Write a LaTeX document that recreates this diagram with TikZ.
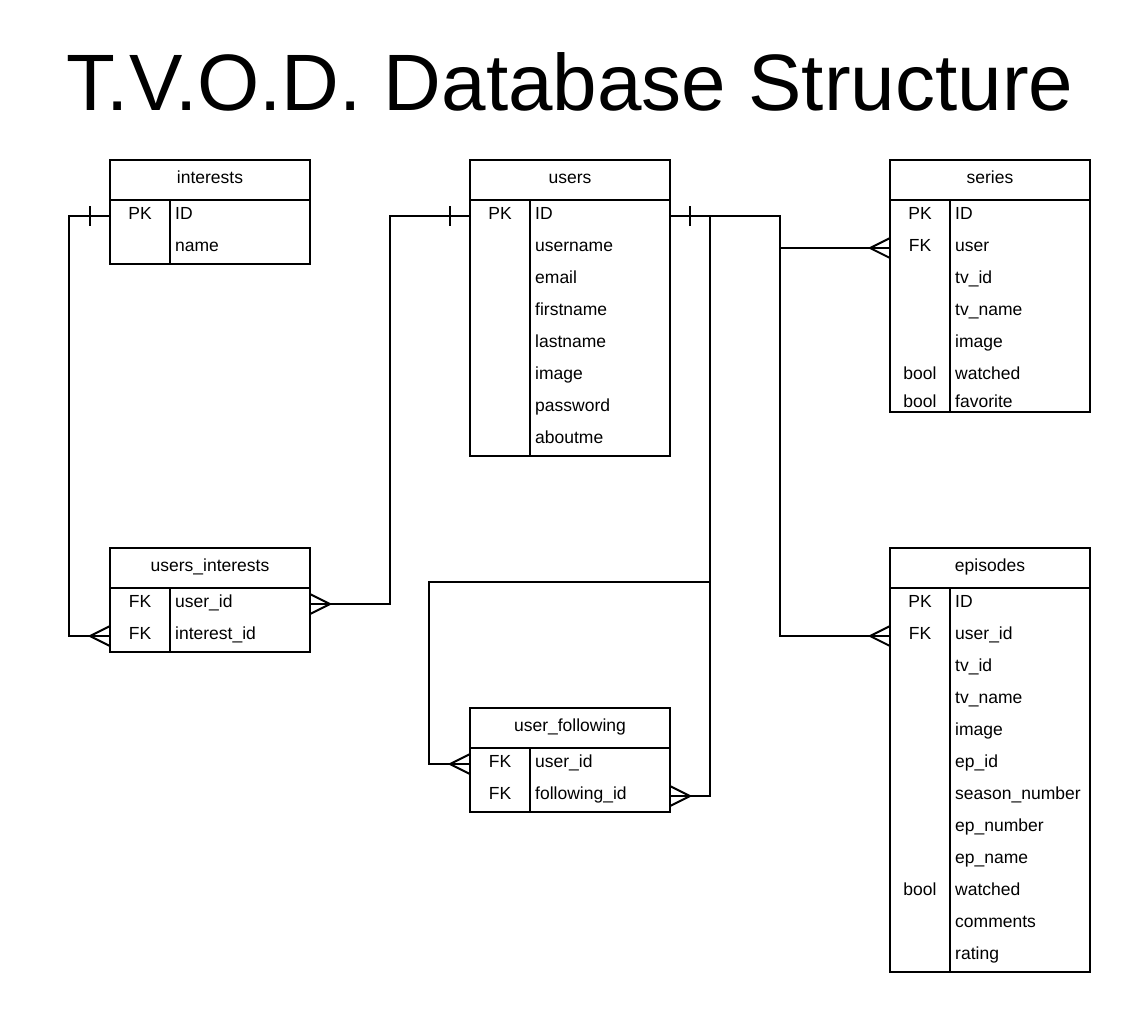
\documentclass[tikz,border=0pt]{standalone}
\usepackage{fontspec}
\setmainfont{Liberation Sans}
\usetikzlibrary{positioning}

\tikzset{
  link/.style={line width=2pt},
  head/.style={draw, line width=2pt, minimum width=200pt, minimum height=40pt,
    inner sep=0pt, outer sep=0pt, text height=12.6pt, text depth=5pt,
    font=\fontsize{17.5pt}{20pt}\selectfont},
  body/.style={draw, line width=2pt, minimum width=200pt, inner sep=0pt, outer sep=0pt},
  key/.style={inner sep=0pt, text height=12.6pt, text depth=5pt,
    font=\fontsize{17.5pt}{20pt}\selectfont},
  field/.style={key, anchor=west},
  one/.pic={\draw[link] (-20,-10) -- (-20,10);},
  many/.pic={\draw[link] (0,-10) -- (-20,0) -- (0,10);},
}

% name, x, y (top left), title, body height, rows key/field
\newcommand{\ertable}[6]{%
  \node[head] (#1) at (#2+100,#3+20) {#4};
  \node[body, minimum height=#5pt, below=0pt of #1] (#1-body) {};
  \draw[link] ([xshift=60pt]#1-body.north west) -- ([xshift=60pt]#1-body.south west);
  \foreach \k/\f [count=\i] in {#6} {
    \pgfmathsetmacro\ry{min(#3+56+32*(\i-1),#3+32+#5)}
    \node[key] (#1-k\i) at (#2+30,\ry) {\k};
    \node[field] (#1-\i) at (#2+65,\ry) {\f};
  }
}

\begin{document}
\begin{tikzpicture}[x=1pt,y=-1pt]
  \fill[white] (0,0) rectangle (1140,1012);
  \useasboundingbox (0,0) rectangle (1140,1012);

  \node[anchor=base, font=\fontsize{80pt}{84pt}\selectfont] (title) at (570,110)
    {T.V.O.D. Database Structure};

  \ertable{interests}{110}{160}{interests}{64}{PK/ID, /name}
  \ertable{users}{470}{160}{users}{256}{PK/ID, /username, /email, /firstname,
    /lastname, /image, /password, /aboutme}
  \ertable{series}{890}{160}{series}{212}{PK/ID, FK/user, /tv\_id, /tv\_name,
    /image, bool/watched, bool/favorite}
  \ertable{usersint}{110}{548}{users\_interests}{64}{FK/user\_id, FK/interest\_id}
  \ertable{follow}{470}{708}{user\_following}{64}{FK/user\_id, FK/following\_id}
  \ertable{episodes}{890}{548}{episodes}{384}{PK/ID, FK/user\_id, /tv\_id,
    /tv\_name, /image, /ep\_id, /season\_number, /ep\_number, /ep\_name,
    bool/watched, /comments, /rating}

  % relations
  \draw[link] (interests-body.west |- interests-1) -- ++(-41,0)
    |- (usersint-body.west |- usersint-2);
  \draw[link] (users-body.west |- users-1) -- ++(-80,0)
    |- (usersint-body.east |- usersint-1);
  \draw[link] (users-body.east |- users-1) -- ++(110,0)
    |- (series-body.west |- series-2);
  \draw[link] (users-body.east |- users-1) -- ++(110,0)
    |- (episodes-body.west |- episodes-2);
  \draw[link] (users-body.east |- users-1) -- ++(40,0)
    |- (follow-body.east |- follow-2);
  \draw[link] (users-body.east |- users-1) -- ++(40,0) -- ++(0,366) -- ++(-281,0)
    |- (follow-body.west |- follow-1);

  \pic at (interests-body.west |- interests-1) {one};
  \pic at (users-body.west |- users-1) {one};
  \pic[rotate=180] at (users-body.east |- users-1) {one};
  \pic at (usersint-body.west |- usersint-2) {many};
  \pic[rotate=180] at (usersint-body.east |- usersint-1) {many};
  \pic at (series-body.west |- series-2) {many};
  \pic at (episodes-body.west |- episodes-2) {many};
  \pic at (follow-body.west |- follow-1) {many};
  \pic[rotate=180] at (follow-body.east |- follow-2) {many};
\end{tikzpicture}
\end{document}
